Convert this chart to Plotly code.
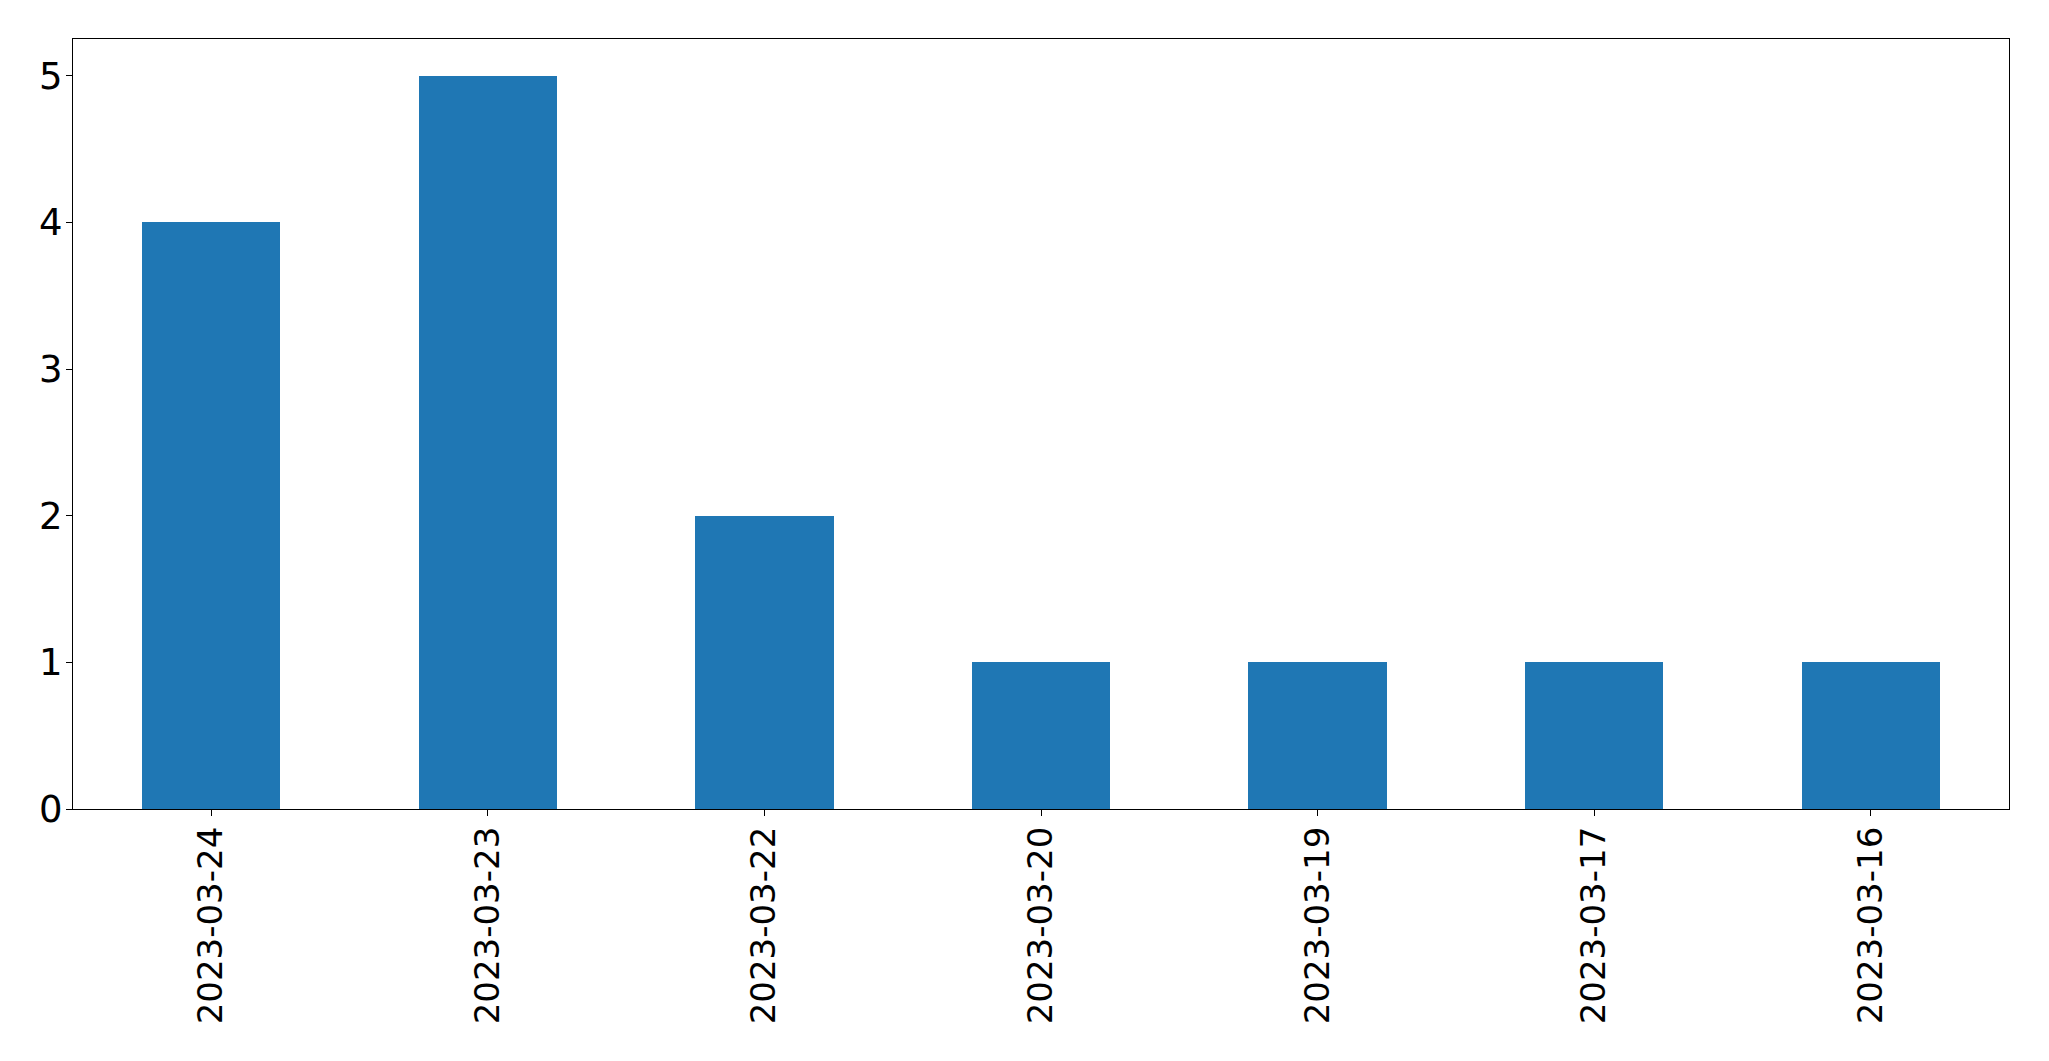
import plotly.graph_objects as go

dates = ["2023-03-24", "2023-03-23", "2023-03-22", "2023-03-20", "2023-03-19", "2023-03-17", "2023-03-16"]
counts = [4, 5, 2, 1, 1, 1, 1]
y_ticks = [0, 1, 2, 3, 4, 5]

fig = go.Figure(go.Bar(x=dates, y=counts, width=0.5, marker=dict(color="#1f77b4", line=dict(width=0))))

fig.update_layout(
    width=2049, height=1061,
    margin=dict(l=73, r=40, t=39, b=252),
    plot_bgcolor="white", paper_bgcolor="white",
    font=dict(family="DejaVu Sans", size=34, color="black"),
    showlegend=False,
    bargap=0,
)
fig.update_xaxes(
    type="category", range=[-0.5, 6.5],
    tickangle=-90, ticks="outside", ticklen=6, tickwidth=1.3, tickcolor="black",
    showline=True, linecolor="black", linewidth=1.3, mirror=True,
    showgrid=False, zeroline=False, ticklabelstandoff=-3,
)
fig.update_yaxes(
    range=[0, 5.25], tickvals=y_ticks, ticks="outside", ticklen=6, tickwidth=1.3, tickcolor="black",
    showline=True, linecolor="black", linewidth=1.3, mirror=True,
    showgrid=False, zeroline=False, ticklabelstandoff=-4, tickfont=dict(size=37),
)

fig.write_html("out.html")
